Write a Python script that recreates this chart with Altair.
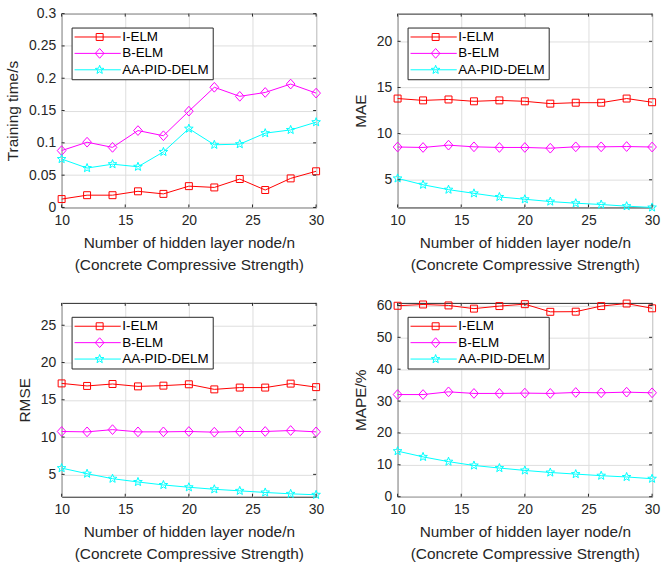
import altair as alt
import pandas as pd

# ---------------- data ----------------
nodes = [10, 12, 14, 16, 18, 20, 22, 24, 26, 28, 30]
series_names = ["I-ELM", "B-ELM", "AA-PID-DELM"]

time_ielm = [0.013, 0.019, 0.019, 0.025, 0.021, 0.033, 0.031, 0.044, 0.027, 0.045, 0.056]
time_belm = [0.088, 0.101, 0.093, 0.119, 0.111, 0.149, 0.186, 0.172, 0.178, 0.191, 0.177]
time_aa = [0.075, 0.061, 0.067, 0.063, 0.086, 0.122, 0.097, 0.098, 0.115, 0.120, 0.132]

mae_ielm = [13.8, 13.6, 13.7, 13.5, 13.6, 13.5, 13.25, 13.35, 13.35, 13.8, 13.4]
mae_belm = [8.55, 8.5, 8.75, 8.57, 8.5, 8.5, 8.42, 8.57, 8.57, 8.6, 8.55]
mae_aa = [5.15, 4.46, 3.93, 3.53, 3.14, 2.89, 2.64, 2.46, 2.32, 2.14, 2.0]

rmse_ielm = [17.2, 16.86, 17.12, 16.8, 16.9, 17.08, 16.4, 16.64, 16.64, 17.17, 16.7]
rmse_belm = [10.75, 10.7, 11.0, 10.7, 10.7, 10.75, 10.66, 10.75, 10.75, 10.88, 10.7]
rmse_aa = [5.84, 5.09, 4.42, 3.98, 3.58, 3.27, 3.0, 2.79, 2.57, 2.39, 2.26]

mape_ielm = [59.9, 60.3, 60.0, 59.0, 59.8, 60.4, 58.0, 58.05, 59.8, 60.6, 59.1]
mape_belm = [32.05, 32.05, 32.9, 32.4, 32.4, 32.5, 32.4, 32.7, 32.6, 32.8, 32.6]
mape_aa = [14.3, 12.5, 11.0, 9.8, 9.0, 8.25, 7.6, 7.1, 6.6, 6.2, 5.65]

x_ticks = [10, 15, 20, 25, 30]
time_ticks = [0, 0.05, 0.1, 0.15, 0.2, 0.25, 0.3]
mae_ticks = [5, 10, 15, 20]
rmse_ticks = [5, 10, 15, 20, 25]
mape_ticks = [0, 10, 20, 30, 40, 50, 60]

x_title = ["Number of hidden layer node/n", "(Concrete Compressive Strength)"]

# ---------------- style ----------------
W, H = 256, 195
FONT = "Liberation Sans"
TXT = "#262626"
series_colors = ["#ff0000", "#ff00ff", "#00ffff"]
series_shapes = [
    "M-1,-1H1V1H-1Z",
    "M0,-1.4L1.25,0L0,1.4L-1.25,0Z",
    "M0,-1.3L0.323,-0.445L1.236,-0.402L0.523,0.17L0.764,1.052L0,0.55"
    "L-0.764,1.052L-0.523,0.17L-1.236,-0.402L-0.323,-0.445Z",
]
TICK = 3
LEG_X, LEG_Y = 10, 14
LEG_PAD, LEG_ROW = 3, 2.5
LEG_FONT = 13.5


def panel(a, b, c, ytitle, ydomain, yticks, yfmt):
    df = pd.DataFrame({
        "x": nodes * 3,
        "v": a + b + c,
        "s": [n for n in series_names for _ in nodes],
    })
    xs = alt.Scale(domain=[10, 30], nice=False, zero=False)
    ys = alt.Scale(domain=ydomain, nice=False, zero=False)
    cscale = alt.Scale(domain=series_names, range=series_colors)
    sscale = alt.Scale(domain=series_names, range=series_shapes)
    lscale = alt.Scale(range=series_colors)

    xaxis = alt.Axis(values=x_ticks, title=x_title, grid=True, format="d",
                     labelFlush=False, labelOverlap=False)
    yaxis = alt.Axis(values=yticks, title=ytitle, grid=True, format=yfmt,
                     labelFlush=False, labelOverlap=False)

    line_legend = alt.Legend(
        title=None, orient="none", legendX=LEG_X, legendY=LEG_Y,
        symbolType="stroke", symbolSize=2304, symbolStrokeWidth=1, clipHeight=13,
        symbolOffset=-2, labelFont=FONT, labelFontSize=LEG_FONT,
        labelColor="#000000", labelOffset=1, padding=LEG_PAD, rowPadding=LEG_ROW,
        fillColor="white", strokeColor=TXT,
    )
    pt_legend = alt.Legend(
        title=None, orient="none", legendX=LEG_X, legendY=LEG_Y,
        symbolSize=49, symbolStrokeWidth=1, symbolOffset=18.5, clipHeight=13,
        labelExpr="''", labelFont=FONT, labelFontSize=LEG_FONT, labelOffset=0,
        padding=LEG_PAD, rowPadding=LEG_ROW,
    )

    X = alt.X("x:Q", scale=xs, axis=xaxis)
    Y = alt.Y("v:Q", scale=ys, axis=yaxis)
    lines = alt.Chart(df).mark_line(strokeWidth=1).encode(
        x=X, y=Y,
        stroke=alt.Stroke("s:N", scale=lscale, sort=series_names, legend=line_legend),
    )
    points = alt.Chart(df).mark_point(filled=False, strokeWidth=1, size=49, opacity=1).encode(
        x=X, y=Y,
        color=alt.Color("s:N", scale=cscale, legend=pt_legend),
        shape=alt.Shape("s:N", scale=sscale, legend=pt_legend),
    )

    ydf = pd.DataFrame({"v": yticks})
    xdf = pd.DataFrame({"x": x_ticks})
    yl = alt.Chart(ydf).mark_rule(color=TXT, strokeWidth=1).encode(
        y=Y, x=alt.value(0), x2=alt.value(TICK))
    yr = alt.Chart(ydf).mark_rule(color=TXT, strokeWidth=1).encode(
        y=Y, x=alt.value(W - TICK), x2=alt.value(W))
    xb = alt.Chart(xdf).mark_rule(color=TXT, strokeWidth=1).encode(
        x=X, y=alt.value(H - TICK), y2=alt.value(H))
    xt = alt.Chart(xdf).mark_rule(color=TXT, strokeWidth=1).encode(
        x=X, y=alt.value(0), y2=alt.value(TICK))

    return alt.layer(lines, points, yl, yr, xb, xt).properties(width=W, height=H)


p1 = panel(time_ielm, time_belm, time_aa, "Training time/s", [0, 0.3], time_ticks, ".2~f")
p2 = panel(mae_ielm, mae_belm, mae_aa, "MAE", [2, 23], mae_ticks, "d")
p3 = panel(rmse_ielm, rmse_belm, rmse_aa, "RMSE", [2, 28], rmse_ticks, "d")
p4 = panel(mape_ielm, mape_belm, mape_aa, "MAPE/%", [0, 60.8], mape_ticks, "d")

chart = alt.concat(
    p1, p2, p3, p4, columns=2, spacing={"row": 96, "column": 82}
).resolve_scale(
    x="independent", y="independent", color="independent",
    stroke="independent", shape="independent",
).resolve_legend(
    color="independent", stroke="independent", shape="independent",
).resolve_axis(
    x="independent", y="independent",
).properties(
    bounds="flush",
    padding={"left": 5, "top": 4, "right": 5, "bottom": 5},
    background="white",
).configure_view(
    stroke=TXT, strokeWidth=1
).configure_axis(
    labelFont=FONT, labelFontSize=14, labelColor=TXT, labelPadding=6,
    titleFont=FONT, titleFontSize=15.5, titleFontWeight="normal", titleColor=TXT,
    titlePadding=8, titleLineHeight=22,
    domain=False, ticks=False, gridColor="#dedede", gridWidth=1,
)

chart.save("out.html", embed_options={"renderer": "svg", "actions": False})
